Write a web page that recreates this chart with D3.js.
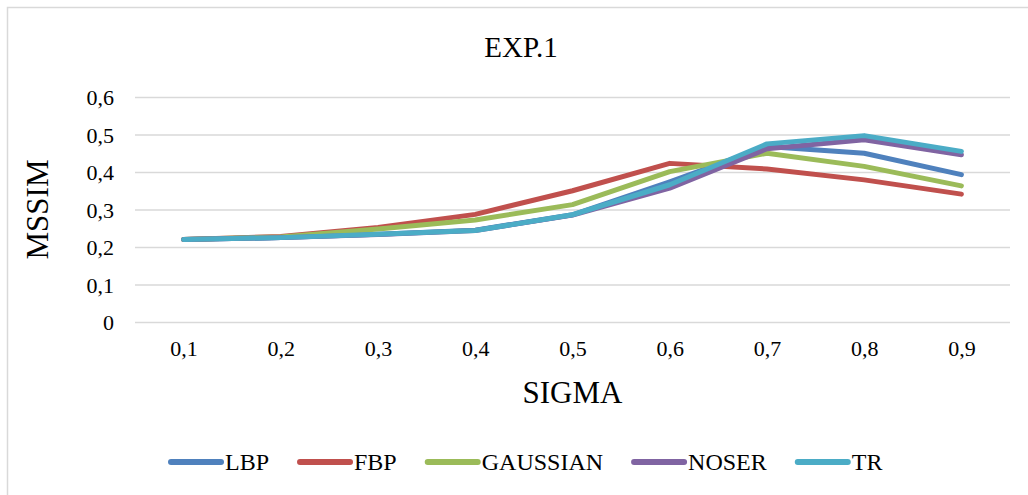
<!DOCTYPE html>
<html>
<head>
<meta charset="utf-8">
<script src="https://cdn.jsdelivr.net/npm/d3@7"></script>
<style>
  body { margin: 0; background: #fff; }
  svg { font-family: "Liberation Serif", "Times New Roman", serif; }
  .grid line { stroke: #d9d9d9; stroke-width: 1.5; }
</style>
</head>
<body>
<script>
// Data
const sigma = ["0,1", "0,2", "0,3", "0,4", "0,5", "0,6", "0,7", "0,8", "0,9"];
const yTicks = [0, 0.1, 0.2, 0.3, 0.4, 0.5, 0.6];
const seriesNames = ["LBP", "FBP", "GAUSSIAN", "NOSER", "TR"];
const lbp      = [0.220, 0.225, 0.234, 0.245, 0.286, 0.374, 0.468, 0.450, 0.393];
const fbp      = [0.220, 0.228, 0.252, 0.287, 0.350, 0.423, 0.408, 0.379, 0.341];
const gaussian = [0.220, 0.227, 0.248, 0.272, 0.313, 0.401, 0.450, 0.415, 0.363];
const noser    = [0.220, 0.225, 0.233, 0.244, 0.285, 0.357, 0.462, 0.486, 0.446];
const tr       = [0.220, 0.225, 0.234, 0.244, 0.286, 0.366, 0.475, 0.497, 0.455];

const series = [lbp, fbp, gaussian, noser, tr];
const colors = ["#4f81bd", "#c0504d", "#9bbb59", "#8064a2", "#4bacc6"];
const serif = "'Liberation Serif', 'Times New Roman', serif";

const w = 1028;
const h = 495;
const plot = { left: 135, right: 1010, top: 97, bottom: 322 };

const svg = d3.select("body")
              .append("svg")
              .attr("width", w)
              .attr("height", h);

// chart frame
svg.append("rect")
   .attr("x", 7.5)
   .attr("y", 7.5)
   .attr("width", 1100)
   .attr("height", 600)
   .attr("fill", "#fff")
   .attr("stroke", "#d9d9d9")
   .attr("stroke-width", 1.5);

const xScale = d3.scalePoint()
                 .domain(sigma)
                 .range([plot.left, plot.right])
                 .padding(0.5);

const yScale = d3.scaleLinear()
                 .domain([0, 0.6])
                 .range([plot.bottom, plot.top]);

const fmt = d => d === 0 ? "0" : d3.format(".1f")(d).replace(".", ",");

// gridlines + y axis labels
const yAxis = d3.axisLeft(yScale)
                .tickValues(yTicks)
                .tickFormat(fmt)
                .tickSize(-(plot.right - plot.left))
                .tickPadding(21);

const yG = svg.append("g")
   .attr("class", "grid")
   .attr("transform", "translate(" + plot.left + ",0)")
   .call(yAxis)
   .call(g => g.select(".domain").remove())
   .attr("font-family", serif)
   .attr("font-size", 22);

yG.selectAll("text")
  .attr("dy", "0.35em")
  .style("font-family", serif)
  .style("fill", "#000");

// x axis labels
const xAxis = d3.axisBottom(xScale)
                .tickSize(0)
                .tickPadding(18);

svg.append("g")
   .attr("transform", "translate(0," + plot.bottom + ")")
   .call(xAxis)
   .call(g => g.select(".domain").remove())
   .attr("font-family", serif)
   .attr("font-size", 22)
   .selectAll("text")
   .style("font-family", serif)
   .style("fill", "#000");

// lines
const line = d3.line()
               .x((d, i) => xScale(sigma[i]))
               .y(d => yScale(d));

series.forEach((s, k) => {
  svg.append("path")
     .datum(s)
     .attr("d", line)
     .attr("fill", "none")
     .attr("stroke", colors[k])
     .attr("stroke-width", 5)
     .attr("stroke-linejoin", "round")
     .attr("stroke-linecap", "round");
});

// titles
svg.append("text")
   .attr("x", 521)
   .attr("y", 57)
   .attr("text-anchor", "middle")
   .attr("font-size", 29)
   .text("EXP.1");

svg.append("text")
   .attr("x", (plot.left + plot.right) / 2)
   .attr("y", 403)
   .attr("text-anchor", "middle")
   .attr("font-size", 31)
   .text("SIGMA");

svg.append("text")
   .attr("transform", "translate(48," + (plot.top + plot.bottom) / 2 + ") rotate(-90)")
   .attr("text-anchor", "middle")
   .attr("font-size", 31)
   .text("MSSIM");

// legend
const legend = svg.append("g")
                  .attr("font-size", 24);
let lx = 168;
seriesNames.forEach((name, k) => {
  legend.append("line")
        .attr("x1", lx + 3)
        .attr("x2", lx + 53)
        .attr("y1", 462)
        .attr("y2", 462)
        .attr("stroke", colors[k])
        .attr("stroke-width", 6)
        .attr("stroke-linecap", "round");
  const t = legend.append("text")
                  .attr("x", lx + 57)
                  .attr("y", 470)
                  .text(name);
  lx += 57 + t.node().getComputedTextLength() + 28;
});
</script>
</body>
</html>
